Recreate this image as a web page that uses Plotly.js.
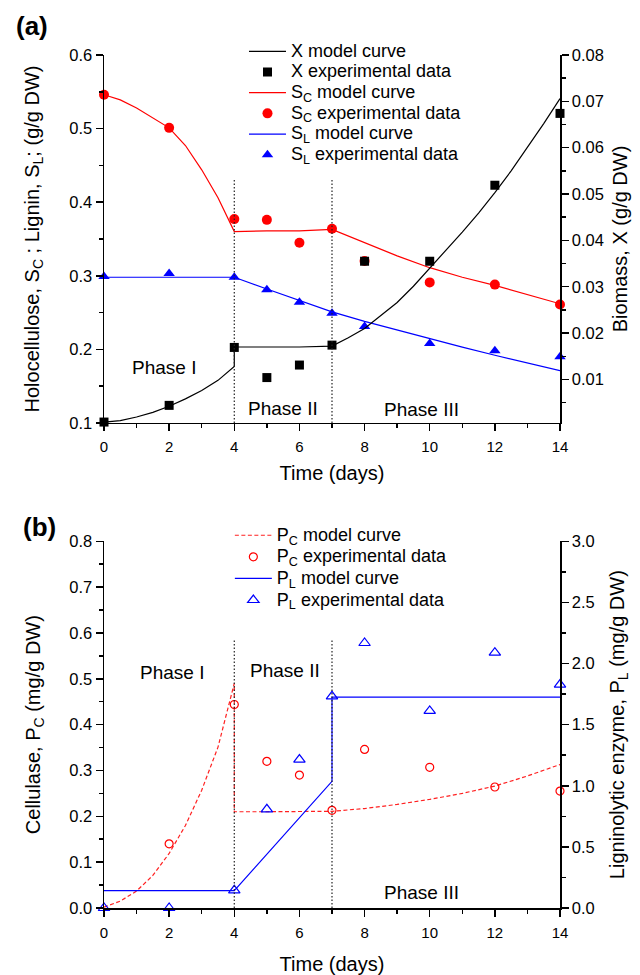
<!DOCTYPE html>
<html>
<head>
<meta charset="utf-8">
<script src="https://cdn.plot.ly/plotly-3.0.1.min.js"></script>
<style>html,body{margin:0;padding:0;background:#fff;}#chart{width:640px;height:975px;}</style>
</head>
<body>
<div id="chart"></div>
<script>
// ---------- Panel (a) data ----------
const expDays = [0, 2, 4, 5, 6, 7, 8, 10, 12, 14];
const xExp  = [0.0008, 0.0044, 0.0169, 0.0104, 0.0131, 0.0174, 0.0355, 0.0355, 0.0519, 0.0674];
const scExp = [0.546, 0.501, 0.377, 0.376, 0.345, 0.364, 0.320, 0.291, 0.288, 0.261];
const slExp = [0.299, 0.303, 0.298, 0.281, 0.264, 0.249, 0.231, 0.208, 0.198, 0.190];

const xModelT = [0, 0.5, 1, 1.5, 2, 2.5, 3, 3.5, 4, 4, 5, 6, 7, 7.5, 8, 8.5, 9, 9.5, 10, 10.5, 11, 11.5, 12, 12.5, 13, 13.5, 14];
const xModelV = [0.0008, 0.0011, 0.0019, 0.0029, 0.0042, 0.0058, 0.0076, 0.0098, 0.0128, 0.0170, 0.0170, 0.0170, 0.0172, 0.0190, 0.0210, 0.0237, 0.0266, 0.0301, 0.0340, 0.0378, 0.0418, 0.0459, 0.0503, 0.0550, 0.0600, 0.0652, 0.0706];

const scModelT = [0, 0.5, 1, 1.5, 2, 2.5, 3, 3.5, 4, 5, 6, 7, 8, 9, 10, 11, 12, 13, 14];
const scModelV = [0.546, 0.539, 0.528, 0.515, 0.501, 0.477, 0.444, 0.406, 0.360, 0.361, 0.361, 0.363, 0.345, 0.327, 0.311, 0.298, 0.287, 0.274, 0.262];

const slModelT = [0, 2, 4, 5, 6, 7, 8, 9, 10, 11, 12, 13, 14];
const slModelV = [0.298, 0.298, 0.298, 0.282, 0.266, 0.251, 0.238, 0.226, 0.214, 0.203, 0.192, 0.182, 0.171];

// ---------- Panel (b) data ----------
const pcExp = [-0.010, 0.140, 0.444, 0.320, 0.290, 0.213, 0.346, 0.307, 0.264, 0.255];
const plExp = [0.0, 0.0, 0.145, 0.807, 1.214, 1.732, 2.168, 1.612, 2.089, 1.828];

const pcModelT = [0, 0.5, 1, 1.5, 2, 2.5, 3, 3.5, 4, 4, 5, 6, 7, 8, 9, 10, 11, 12, 13, 14];
const pcModelV = [0.002, 0.015, 0.037, 0.071, 0.119, 0.180, 0.257, 0.351, 0.490, 0.210, 0.210, 0.210, 0.211, 0.217, 0.226, 0.237, 0.250, 0.266, 0.288, 0.313];

const plModelT = [0, 4, 7, 7, 14];
const plModelV = [0.142, 0.142, 1.036, 1.726, 1.726];

const phaseBounds = [4, 7];
const xTickVals = [0, 2, 4, 6, 8, 10, 12, 14];

const FONT = 'Liberation Sans, Arial, Helvetica, sans-serif';
const big = s => '<span style="font-size:18px">' + s + '</span>';

const traces = [
  {x: xModelT, y: xModelV, yaxis: 'y2', xaxis: 'x', mode: 'lines', name: big('X model curve'),
   line: {color: '#000', width: 1.2}, legend: 'legend', cliponaxis: false},
  {x: expDays, y: xExp, yaxis: 'y2', xaxis: 'x', mode: 'markers', name: big('X experimental data'),
   marker: {symbol: 'square', size: 9, color: '#000'}, legend: 'legend', cliponaxis: false},
  {x: scModelT, y: scModelV, yaxis: 'y', xaxis: 'x', mode: 'lines', name: big('S<sub>C</sub> model curve'),
   line: {color: '#ff0000', width: 1.2}, legend: 'legend', cliponaxis: false},
  {x: expDays, y: scExp, yaxis: 'y', xaxis: 'x', mode: 'markers', name: big('S<sub>C</sub> experimental data'),
   marker: {symbol: 'circle', size: 10, color: '#ff0000'}, legend: 'legend', cliponaxis: false},
  {x: slModelT, y: slModelV, yaxis: 'y', xaxis: 'x', mode: 'lines', name: big('S<sub>L</sub> model curve'),
   line: {color: '#0000ff', width: 1.2}, legend: 'legend', cliponaxis: false},
  {x: expDays, y: slExp, yaxis: 'y', xaxis: 'x', mode: 'markers', name: big('S<sub>L</sub> experimental data'),
   marker: {symbol: 'triangle-up', size: 10, color: '#0000ff'}, legend: 'legend', cliponaxis: false},

  {x: pcModelT, y: pcModelV, yaxis: 'y3', xaxis: 'x2', mode: 'lines', name: big('P<sub>C</sub> model curve'),
   line: {color: '#ff2020', width: 1.2, dash: '4px,2.5px'}, legend: 'legend2', cliponaxis: false},
  {x: expDays, y: pcExp, yaxis: 'y3', xaxis: 'x2', mode: 'markers', name: big('P<sub>C</sub> experimental data'),
   marker: {symbol: 'circle-open', size: 8, color: '#ff0000', line: {width: 1.2}}, legend: 'legend2', cliponaxis: false},
  {x: plModelT, y: plModelV, yaxis: 'y4', xaxis: 'x2', mode: 'lines', name: big('P<sub>L</sub> model curve'),
   line: {color: '#0000ff', width: 1.2}, legend: 'legend2', cliponaxis: false},
  {x: expDays, y: plExp, yaxis: 'y4', xaxis: 'x2', mode: 'markers', name: big('P<sub>L</sub> experimental data'),
   marker: {symbol: 'triangle-up-open', size: 10, color: '#0000ff', line: {width: 1.2}}, legend: 'legend2', cliponaxis: false}
];

const axCommon = {
  showline: true, linecolor: '#000', linewidth: 1.5, ticks: 'outside', ticklen: 7, tickwidth: 1.5,
  tickcolor: '#000', showgrid: false, zeroline: false, fixedrange: true
};
const xAx = (anchor, standoff) => Object.assign({}, axCommon, {
  anchor: anchor, domain: [0, 1], range: [0, 14], tickvals: xTickVals, ticklabelstandoff: 3,
  minor: {ticks: 'outside', ticklen: 4, tickwidth: 1.5, dtick: 1, tick0: 0, tickcolor: '#000'},
  tickfont: {family: FONT, size: 15, color: '#000'},
  title: {text: 'Time (days)', font: {family: FONT, size: 20, color: '#000'}, standoff: standoff}
});

const TOP = [0.5686, 1];
const BOT = [0, 0.4299];

const shapes = [];
phaseBounds.forEach(b => {
  shapes.push({type: 'line', xref: 'x', yref: 'y', x0: b, x1: b, y0: 0.1, y1: 0.43,
    line: {color: '#222', width: 1.2, dash: '1.5px,2px'}});
  shapes.push({type: 'line', xref: 'x2', yref: 'y3', x0: b, x1: b, y0: 0, y1: 0.585,
    line: {color: '#222', width: 1.2, dash: '1.5px,2px'}});
});

const annFont = {family: FONT, size: 19, color: '#000'};
const annotations = [
  {text: 'Phase I', x: 1.85, y: 0.176, xref: 'x', yref: 'y', showarrow: false, font: annFont},
  {text: 'Phase II', x: 5.5, y: 0.12, xref: 'x', yref: 'y', showarrow: false, font: annFont},
  {text: 'Phase III', x: 9.76, y: 0.118, xref: 'x', yref: 'y', showarrow: false, font: annFont},
  {text: 'Phase I', x: 2.08, y: 0.513, xref: 'x2', yref: 'y3', showarrow: false, font: annFont},
  {text: 'Phase II', x: 5.55, y: 0.518, xref: 'x2', yref: 'y3', showarrow: false, font: annFont},
  {text: 'Phase III', x: 9.75, y: 0.033, xref: 'x2', yref: 'y3', showarrow: false, font: annFont},
  {text: '<b>(a)</b>', x: -0.198, y: 1.0545, xref: 'paper', yref: 'paper', showarrow: false,
   font: {family: FONT, size: 26, color: '#000'}},
  {text: '<b>(b)</b>', x: -0.181, y: 0.447, xref: 'paper', yref: 'paper', showarrow: false,
   font: {family: FONT, size: 26, color: '#000'}}
];

const layout = {
  width: 640, height: 975,
  margin: {l: 104, r: 80, t: 55, b: 67},
  paper_bgcolor: '#fff', plot_bgcolor: '#fff',
  font: {family: FONT, color: '#000'},
  showlegend: true,
  xaxis: xAx('y', 11),
  xaxis2: xAx('y3', 17),
  yaxis: Object.assign({}, axCommon, {
    domain: TOP, anchor: 'x', range: [0.1, 0.6], dtick: 0.1, tick0: 0, tickformat: '.1f',
    minor: {ticks: 'outside', ticklen: 4, tickwidth: 1.5, dtick: 0.05, tick0: 0, tickcolor: '#000'},
    tickfont: {family: FONT, size: 16.5, color: '#000'},
    title: {text: 'Holocellulose, S<sub>C</sub> ; Lignin, S<sub>L</sub>; (g/g DW)', font: {family: FONT, size: 20, color: '#000'}, standoff: 24}
  }),
  yaxis2: Object.assign({}, axCommon, {
    domain: TOP, anchor: 'x', overlaying: 'y', side: 'right', range: [0.0006, 0.08], dtick: 0.01, tick0: 0, tickformat: '.2f',
    minor: {ticks: 'outside', ticklen: 4, tickwidth: 1.5, dtick: 0.005, tick0: 0, tickcolor: '#000'},
    tickfont: {family: FONT, size: 16.5, color: '#000'},
    title: {text: 'Biomass, X (g/g DW)', font: {family: FONT, size: 20, color: '#000'}, standoff: 10}
  }),
  yaxis3: Object.assign({}, axCommon, {
    domain: BOT, anchor: 'x2', range: [0, 0.8], dtick: 0.1, tick0: 0, tickformat: '.1f',
    minor: {ticks: 'outside', ticklen: 4, tickwidth: 1.5, dtick: 0.05, tick0: 0, tickcolor: '#000'},
    tickfont: {family: FONT, size: 16.5, color: '#000'},
    title: {text: 'Cellulase, P<sub>C</sub> (mg/g DW)', font: {family: FONT, size: 20, color: '#000'}, standoff: 23}
  }),
  yaxis4: Object.assign({}, axCommon, {
    domain: BOT, anchor: 'x2', overlaying: 'y3', side: 'right', range: [0, 3], dtick: 0.5, tick0: 0, tickformat: '.1f',
    minor: {ticks: 'outside', ticklen: 4, tickwidth: 1.5, dtick: 0.25, tick0: 0, tickcolor: '#000'},
    tickfont: {family: FONT, size: 16.5, color: '#000'},
    title: {text: 'Ligninolytic enzyme, P<sub>L</sub> (mg/g DW)', font: {family: FONT, size: 20, color: '#000'}, standoff: 16}
  }),
  legend: {x: 0.307, y: 1.0223, xanchor: 'left', yanchor: 'top', bgcolor: 'rgba(0,0,0,0)', itemwidth: 37,
    font: {family: FONT, size: 13.6, color: '#000'}, tracegroupgap: 0, borderwidth: 0},
  legend2: {x: 0.276, y: 0.4555, xanchor: 'left', yanchor: 'top', bgcolor: 'rgba(0,0,0,0)', itemwidth: 37,
    font: {family: FONT, size: 14.3, color: '#000'}, tracegroupgap: 0, borderwidth: 0},
  shapes: shapes,
  annotations: annotations
};

Plotly.newPlot('chart', traces, layout, {staticPlot: true, displayModeBar: false});
</script>
</body>
</html>
